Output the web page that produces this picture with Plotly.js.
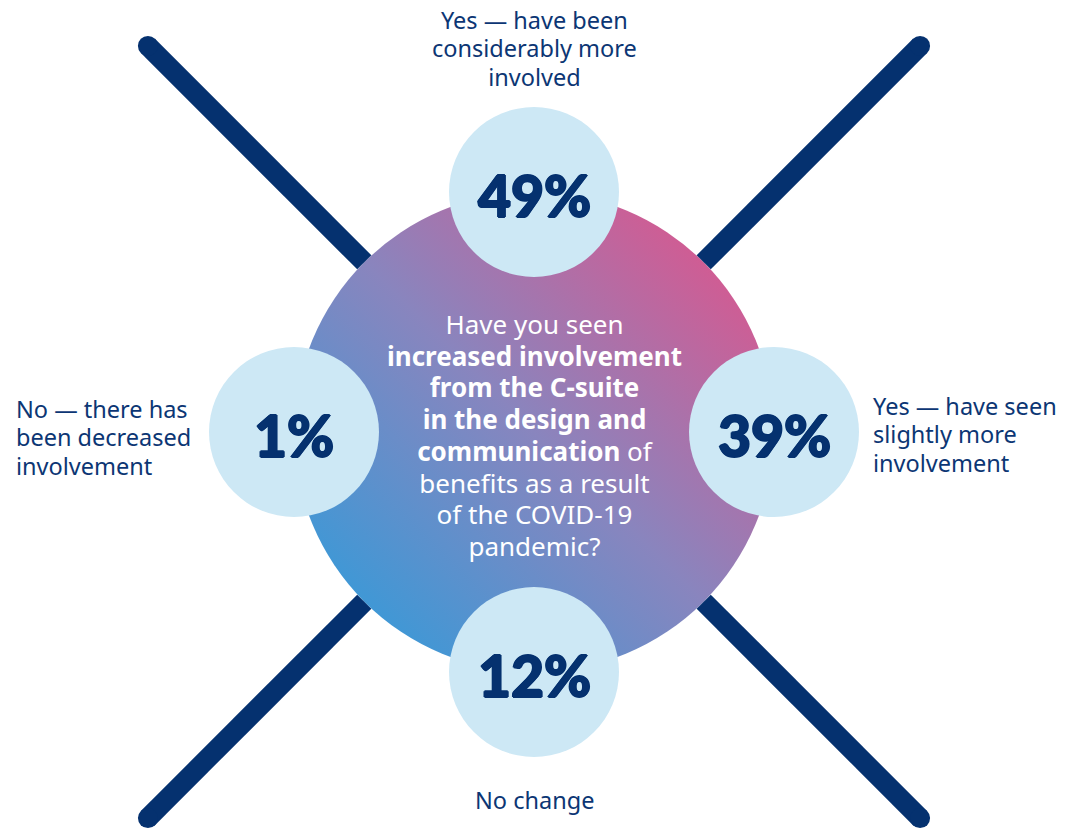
<!DOCTYPE html>
<html>
<head>
<meta charset="utf-8">
<script src="https://cdn.plot.ly/plotly-3.0.1.min.js"></script>
<style>
  html, body { margin: 0; padding: 0; background: #ffffff; }
  #chart { width: 1072px; height: 832px; }
</style>
</head>
<body>
<div id="chart"></div>
<script>
// ---- data ----
var categories = [
  "Yes — have been<br>considerably more<br>involved",
  "Yes — have seen<br>slightly more<br>involvement",
  "No change",
  "No — there has<br>been decreased<br>involvement"
];
var values = [49, 39, 12, 1];
var question = "Have you seen<br><b>increased involvement</b><br><b>from the C-suite</b><br><b>in the design and</b><br><b>communication</b> of<br>benefits as a result<br>of the COVID-19<br>pandemic?";

// ---- layout constants ----
var W = 1072, H = 832;
var CX = 534, CY = 432;      // hub centre
var R = 240;                  // hub radius
var r = 85;                   // bubble radius
var ARM = 546;                // length of the X arms from the centre
var NAVY = "#05316f";
var TEXT = "#0c3674";
var BUBBLE = "#cde8f5";
var LABEL_FONT = "'Noto Sans', 'Open Sans', sans-serif";
// glyph size vs. line pitch (Plotly line pitch = 1.3 x base font size)
var LABEL_SIZE = 23.5, LABEL_LS = 28.3;
var Q_SIZE = 26, Q_LS = 31.7;

function sized(text, px) {
  return text.split("<br>").map(function (t) {
    return "<span style='font-size:" + px + "px'>" + t + "</span>";
  }).join("<br>");
}

// bubble positions derived from category order (top, right, bottom, left)
var bx = [], by = [];
categories.forEach(function (c, i) {
  var a = (-90 + 90 * i) * Math.PI / 180;
  bx.push(CX + R * Math.cos(a));
  by.push(CY + R * Math.sin(a));
});

// X arms: from hub edge outward along the diagonals
var lx = [], ly = [], ls = [];
[45, 135, 225, 315].forEach(function (deg) {
  var a = deg * Math.PI / 180;
  lx.push(CX + R * Math.cos(a), CX + ARM * Math.cos(a), null);
  ly.push(CY + R * Math.sin(a), CY + ARM * Math.sin(a), null);
  ls.push(0, 20, 0);
});

var arms = {
  type: "scatter", mode: "lines+markers",
  x: lx, y: ly,
  line: { color: NAVY, width: 20 },
  marker: { color: NAVY, size: ls, opacity: 1, line: { width: 0 } },
  hoverinfo: "skip", showlegend: false
};

var bubbles = {
  type: "scatter", mode: "markers",
  x: bx, y: by,
  marker: { color: BUBBLE, size: 2 * r, opacity: 1, line: { width: 0 } },
  hoverinfo: "skip", showlegend: false
};

// hub circle with diagonal gradient
var svg = "<svg xmlns='http://www.w3.org/2000/svg' width='480' height='480' viewBox='0 0 480 480'>" +
  "<defs><linearGradient id='g' x1='0' y1='1' x2='1' y2='0'>" +
  "<stop offset='0.12' stop-color='#3b99d7'/>" +
  "<stop offset='0.5' stop-color='#8985be'/>" +
  "<stop offset='0.88' stop-color='#d45a91'/>" +
  "</linearGradient></defs>" +
  "<circle cx='240' cy='240' r='240' fill='url(#g)'/></svg>";
var svgUri = "data:image/svg+xml;charset=utf-8," + encodeURIComponent(svg);

var annotations = [];

// percentage values on the bubbles (slight outline to mimic the heavy face)
var heavy = "1px 0px 0px " + NAVY + ", -1px 0px 0px " + NAVY + ", 0px 1px 0px " + NAVY + ", 0px -1px 0px " + NAVY;
values.forEach(function (v, i) {
  annotations.push({
    text: v + "%", showarrow: false, xref: "x", yref: "y",
    x: bx[i], y: by[i], xanchor: "center", yanchor: "middle", yshift: -3,
    font: { family: "Lato, 'DejaVu Sans', sans-serif", size: 57, color: NAVY, weight: 900, shadow: heavy }
  });
});

// category labels placed beside each bubble
categories.forEach(function (c, i) {
  var x, y, xanchor, align = "center";
  if (i === 0) { x = bx[i]; y = by[i] - r - 59; xanchor = "center"; }
  if (i === 1) { x = bx[i] + r + 12; y = by[i] + 2.5; xanchor = "left"; align = "left"; }
  if (i === 2) { x = bx[i]; y = by[i] + r + 43; xanchor = "center"; }
  if (i === 3) { x = bx[i] - r - 195; y = by[i] + 5; xanchor = "left"; align = "left"; }
  annotations.push({
    text: sized(c, LABEL_SIZE), showarrow: false, xref: "x", yref: "y",
    x: x, y: y, xanchor: xanchor, yanchor: "middle", align: align,
    font: { family: LABEL_FONT, size: LABEL_LS / 1.3, color: TEXT }
  });
});

// the survey question inside the hub
annotations.push({
  text: sized(question, Q_SIZE), showarrow: false, xref: "x", yref: "y",
  x: CX, y: CY + 3, xanchor: "center", yanchor: "middle", align: "center",
  font: { family: LABEL_FONT, size: Q_LS / 1.3, color: "#ffffff" }
});

var layout = {
  width: W, height: H,
  margin: { l: 0, r: 0, t: 0, b: 0, pad: 0 },
  paper_bgcolor: "#ffffff", plot_bgcolor: "#ffffff",
  xaxis: { range: [0, W], visible: false, fixedrange: true },
  yaxis: { range: [H, 0], visible: false, fixedrange: true },
  images: [{
    source: svgUri, xref: "x", yref: "y",
    x: CX - R, y: CY - R, sizex: 2 * R, sizey: 2 * R,
    xanchor: "left", yanchor: "top", sizing: "stretch", layer: "below"
  }],
  annotations: annotations,
  showlegend: false
};

Plotly.newPlot("chart", [arms, bubbles], layout, { staticPlot: true, displayModeBar: false });
</script>
</body>
</html>
